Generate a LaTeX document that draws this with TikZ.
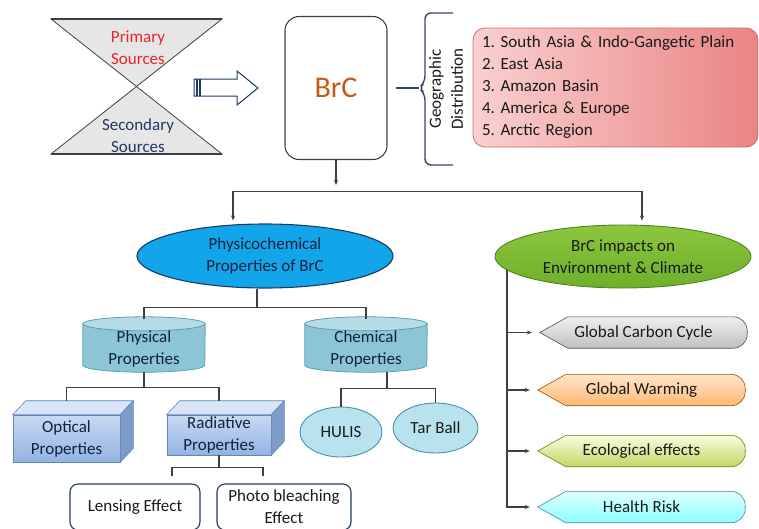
\documentclass[tikz,border=0pt]{standalone}
\usepackage{fontspec}
\setmainfont{Carlito}
\frenchspacing
\usepackage{tikz}
\usetikzlibrary{shapes.geometric}
\usetikzlibrary{arrows.meta, backgrounds}

\definecolor{brcorange}{HTML}{C55A11}
\definecolor{srcred}{HTML}{E8262B}
\definecolor{navy}{HTML}{1F3864}
\definecolor{txtdark}{HTML}{1A1A1A}
\definecolor{txtnavy}{HTML}{13223A}
\definecolor{linegray}{HTML}{3C4048}
\definecolor{glassfill}{HTML}{E6E6E6}
\definecolor{geolight}{HTML}{FAD0D0}
\definecolor{geodark}{HTML}{EA8484}
\definecolor{geoedge}{HTML}{D06A6A}
\definecolor{pcblue}{HTML}{12A5EA}
\definecolor{impgreen}{HTML}{6EAF2A}
\definecolor{impgreenlt}{HTML}{8CC63F}
\definecolor{cylbody}{HTML}{8CC6D4}
\definecolor{cyltop}{HTML}{B3DCE7}
\definecolor{cyledge}{HTML}{5E9EB0}
\definecolor{cubelight}{HTML}{C8DAF3}
\definecolor{cubedark}{HTML}{92B3E2}
\definecolor{cubeside}{HTML}{7E9CCB}
\definecolor{cubeedge}{HTML}{6584B8}
\definecolor{ballfill}{HTML}{B8E3EE}
\definecolor{balledge}{HTML}{4F8FA2}

\begin{document}
\begin{tikzpicture}[x=1pt, y=-1pt, font=\fontsize{17}{22}\selectfont,
    >={Stealth[length=5pt, width=4pt]},
    conn/.style={draw=linegray, line width=1.1pt},
    propcyl/.style={minimum width=122pt, minimum height=55pt, inner sep=0pt,
        align=center, text=txtnavy},
    cylbody/.style={fill=cylbody, draw=cyledge, line width=0.8pt},
    cylend/.style={fill=cyltop, draw=cyledge, line width=0.8pt},
    cubefront/.style={draw=cubeedge, line width=0.6pt, top color=cubelight,
        bottom color=cubedark, inner sep=1pt, align=center, text=txtnavy},
    cubetop/.style={draw=cubeedge, line width=0.6pt, fill=cubelight!70!white},
    cubeside/.style={draw=cubeedge, line width=0.6pt, fill=cubeside},
    effectbox/.style={draw=navy, line width=1.1pt, fill=white, rounded corners=8pt,
        minimum height=46pt, inner sep=1pt, align=center, text=txtdark},
    ballnode/.style={ellipse, draw=balledge, line width=0.9pt, fill=ballfill,
        minimum height=50pt, inner sep=0pt, text=txtdark},
    impact/.style={minimum width=207pt, minimum height=31pt, inner sep=0pt, text=txtdark},
    impactshape/.style={draw=#1!60!black, line width=0.6pt}]

\useasboundingbox (0,0) rectangle (759,528);

% --- SOURCES (hourglass) ---
\filldraw[fill=glassfill, draw=linegray, line width=0.8pt] (51,19) -- (222,19) -- (136.5,86.5) -- cycle;
\filldraw[fill=glassfill, draw=linegray, line width=0.8pt] (136.5,86.5) -- (51,154) -- (222,154) -- cycle;
\draw[linegray, line width=1.6pt] (51,19) -- (222,19);
\draw[linegray, line width=1.6pt] (51,154) -- (222,154);
\node[text=srcred, align=center] (prim) at (138,48) {Primary\\Sources};
\node[text=navy, align=center] (sec) at (138,136) {Secondary\\Sources};

% block arrow
\filldraw[fill=white, draw=navy, line width=1pt]
    (194,79) -- (237,79) -- (237,71) -- (258,88) -- (237,105) -- (237,96) -- (194,96) -- cycle;
\draw[navy, line width=1.3pt] (197,79) -- (197,96);
\draw[navy, line width=1.3pt] (200,79) -- (200,96);

% --- BrC AND ITS DISTRIBUTION ---
\node[draw=linegray, line width=1.1pt, rounded corners=14pt, minimum width=102pt,
      minimum height=143pt, text=brcorange, font=\fontsize{30}{36}\selectfont]
      (brc) at (336,88) {BrC};

\coordinate (bracetip) at (419,88);
\draw[navy!80!gray, line width=1.4pt, rounded corners=6pt]
    (453,13) -- (425,13) -- (425,82) -- (bracetip) -- (425,94) -- (425,165) -- (453,165);
\draw[navy!80!gray, line width=1.4pt] ([xshift=8pt]brc.east) -- (bracetip);
\node[rotate=90, align=center, text=txtdark] (geolabel) at (446,89) {Geographic\\Distribution};

\node[draw=geoedge, line width=0.8pt, rounded corners=12pt, left color=geolight,
      right color=geodark, minimum width=285pt, minimum height=119pt,
      text width=267pt, inner xsep=9pt, align=left, text=txtdark]
      (geo) at (615.5,87.5)
      {1. South Asia \& Indo-Gangetic Plain\\2. East Asia\\3. Amazon Basin\\4. America \& Europe\\5. Arctic Region};

% --- MAIN SPLIT ---
\node[ellipse, draw=navy, line width=1.1pt, fill=pcblue, minimum width=256pt,
      minimum height=64pt, align=center, text=txtnavy]
      (pcp) at (265,256) {Physicochemical\\Properties of BrC};
\node[ellipse, draw=impgreen!75!black, line width=0.9pt, top color=impgreenlt,
      bottom color=impgreen, minimum width=256pt, minimum height=63pt,
      align=center, text=txtdark]
      (gce) at (623,256.5) {BrC impacts on\\Environment \& Climate};

\path (brc.south) ++(0,31) coordinate (split);
\draw[conn, ->] (brc.south) -- ([yshift=6pt]split);
\draw[conn, ->, shorten >=3pt] (split) -| ([xshift=-32pt]pcp.north);
\draw[conn, ->, shorten >=4pt] (split) -| ([xshift=19pt]gce.north);

% --- PHYSICOCHEMICAL BRANCH ---
% nodes sit 4.5pt below the drawn cylinders
\node[propcyl] (phys) at (144,349) {Physical\\Properties};
\node[propcyl] (chem) at (366,349) {Chemical\\Properties};

\begin{scope}[on background layer]
    \filldraw[cylbody] ([yshift=-2.5pt]phys.north west) -- ([yshift=11.5pt]phys.south west)
        arc[start angle=180, end angle=360, x radius=61pt, y radius=7pt]
        -- ([yshift=-2.5pt]phys.north east) -- cycle;
    \filldraw[cylend] ([yshift=-2.5pt]phys.north) ellipse[x radius=61pt, y radius=7pt];
    \filldraw[cylbody] ([yshift=-2.5pt]chem.north west) -- ([yshift=11.5pt]chem.south west)
        arc[start angle=180, end angle=360, x radius=61pt, y radius=7pt]
        -- ([yshift=-2.5pt]chem.north east) -- cycle;
    \filldraw[cylend] ([yshift=-2.5pt]chem.north) ellipse[x radius=61pt, y radius=7pt];
\end{scope}

\draw[conn] ([xshift=-8pt]pcp.south) -- ++(0,19);
\draw[conn] ([yshift=2pt]phys.north) |- ([xshift=-8pt, yshift=-19pt]pcp.south)
    -| ([yshift=2pt]chem.north);

% cubes
\node[cubefront, minimum width=107pt, minimum height=47pt] (opt) at (66.5,438.5) {Optical\\Properties};
\filldraw[cubetop] (opt.north west) -- ([shift={(13,-14)}]opt.north west)
    -- ([shift={(13,-14)}]opt.north east) -- (opt.north east) -- cycle;
\filldraw[cubeside] (opt.north east) -- ([shift={(13,-14)}]opt.north east)
    -- ([shift={(13,-14)}]opt.south east) -- (opt.south east) -- cycle;

\node[cubefront, minimum width=104pt, minimum height=40pt] (rad) at (219,435) {Radiative\\Properties};
\filldraw[cubetop] (rad.north west) -- ([shift={(13,-14)}]rad.north west)
    -- ([shift={(13,-14)}]rad.north east) -- (rad.north east) -- cycle;
\filldraw[cubeside] (rad.north east) -- ([shift={(13,-14)}]rad.north east)
    -- ([shift={(13,-14)}]rad.south east) -- (rad.south east) -- cycle;

\draw[conn] ([yshift=4.5pt]phys.south) -- ++(0,15);
\draw[conn] ([yshift=14pt]opt.north) |- ([yshift=-10.5pt]phys.south) -| ([yshift=14pt]rad.north);

% radiative effects
\node[effectbox, minimum width=130pt] (lens) at (135,507) {Lensing Effect};
\node[effectbox, minimum width=134pt] (photo) at (284,507) {Photo bleaching\\Effect};

\draw[conn] (rad.south) -- ++(0,12);
\draw[conn] ([xshift=37pt, yshift=7pt]lens.north) |- ([yshift=-12pt]rad.south)
    -| ([xshift=-21pt, yshift=7pt]photo.north);

% chemical species
\node[ballnode, minimum width=82pt] (hulis) at (341,432) {HULIS};
\node[ballnode, minimum width=85pt] (tar) at (435.5,428) {Tar Ball};

\draw[conn] ([xshift=21pt, yshift=4.5pt]chem.south) -- ++(0,16);
\draw[conn] (hulis.north) |- ([xshift=21pt, yshift=-11.5pt]chem.south) -| (tar.north);

% --- IMPACTS BRANCH ---
\node[impact] (gcc) at (643.5,332.5) {Global Carbon Cycle};
\node[impact] (gw) at (641.5,390) {Global Warming};
\node[impact] (eco) at (641.5,451) {Ecological effects};
\node[impact] (hr) at (641.5,507) {Health Risk};

\begin{scope}[on background layer]
    \shadedraw[impactshape=gray, top color=gray!12, bottom color=gray!50]
        (gcc.west) -- ([xshift=28pt]gcc.north west) [rounded corners=14pt] -- (gcc.north east)
        -- (gcc.south east) [sharp corners] -- ([xshift=28pt]gcc.south west) -- cycle;
    \shadedraw[impactshape=orange, top color=orange!20, bottom color=orange!55]
        (gw.west) -- ([xshift=28pt]gw.north west) [rounded corners=14pt] -- (gw.north east)
        -- (gw.south east) [sharp corners] -- ([xshift=28pt]gw.south west) -- cycle;
    \shadedraw[impactshape=lime!70!olive, top color=lime!12!white, bottom color=lime!45!olive!60!white]
        (eco.west) -- ([xshift=28pt]eco.north west) [rounded corners=14pt] -- (eco.north east)
        -- (eco.south east) [sharp corners] -- ([xshift=28pt]eco.south west) -- cycle;
    \shadedraw[impactshape=cyan, top color=cyan!12, bottom color=cyan!45]
        (hr.west) -- ([xshift=28pt]hr.north west) [rounded corners=14pt] -- (hr.north east)
        -- (hr.south east) [sharp corners] -- ([xshift=28pt]hr.south west) -- cycle;
\end{scope}

\coordinate (trunk) at (507,270);
\draw[conn, ->, shorten >=8pt] (trunk) |- (hr.west);
\draw[conn, ->, shorten >=8pt] (trunk |- gcc.west) -- (gcc.west);
\draw[conn, ->, shorten >=8pt] (trunk |- gw.west) -- (gw.west);
\draw[conn, ->, shorten >=8pt] (trunk |- eco.west) -- (eco.west);

\end{tikzpicture}
\end{document}
